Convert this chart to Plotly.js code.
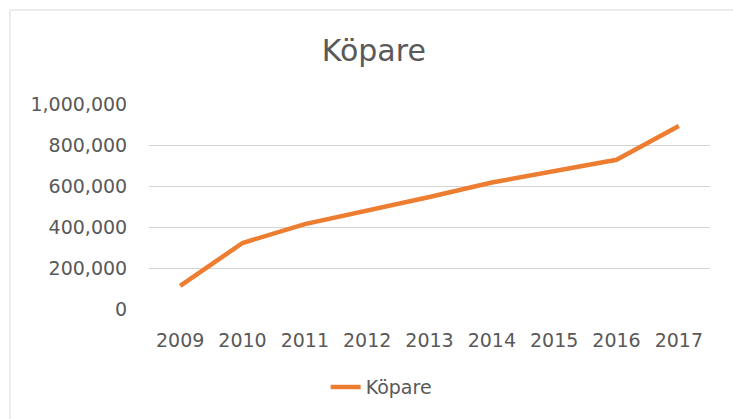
<!DOCTYPE html>
<html>
<head>
<meta charset="utf-8">
<script src="https://cdn.plot.ly/plotly-3.0.1.min.js"></script>
<style>
  html, body { margin: 0; padding: 0; background: #ffffff; }
  #chart { width: 733px; height: 419px; }
</style>
</head>
<body>
<div id="chart"></div>
<script>
const years = ["2009", "2010", "2011", "2012", "2013", "2014", "2015", "2016", "2017"];
const kopare = [113000, 322000, 414000, 478000, 546000, 617000, 671000, 728000, 893000];
const seriesName = "Köpare";
const yTicks = [0, 200000, 400000, 600000, 800000, 1000000];

const textColor = "#595959";
const fontFamily = "DejaVu Sans, Liberation Sans, sans-serif";

const trace = {
  x: years,
  y: kopare,
  type: "scatter",
  mode: "lines",
  name: seriesName,
  line: { color: "#ED7D31", width: 4.5, shape: "linear" },
  hoverinfo: "x+y"
};

const layout = {
  width: 733,
  height: 419,
  margin: { l: 149, r: 23, t: 104, b: 110, pad: 0 },
  paper_bgcolor: "#ffffff",
  plot_bgcolor: "#ffffff",
  font: { family: fontFamily, color: textColor, size: 19 },
  title: {
    text: "Köpare",
    font: { family: fontFamily, size: 30, color: textColor },
    xref: "container",
    yref: "container",
    x: 0.51,
    xanchor: "center",
    y: 0.905,
    yanchor: "top"
  },
  xaxis: {
    type: "category",
    range: [-0.5, 8.5],
    showgrid: false,
    zeroline: false,
    showline: false,
    ticks: "outside",
    ticklen: 14,
    tickcolor: "rgba(0,0,0,0)",
    tickfont: { family: fontFamily, size: 19, color: textColor },
    fixedrange: true
  },
  yaxis: {
    range: [0, 1000000],
    tickvals: yTicks,
    tickformat: ",d",
    showgrid: true,
    gridcolor: "#d4d4d4",
    gridwidth: 1.3,
    zeroline: false,
    showline: false,
    ticks: "outside",
    ticklen: 17,
    tickcolor: "rgba(0,0,0,0)",
    tickfont: { family: fontFamily, size: 19, color: textColor },
    fixedrange: true
  },
  showlegend: true,
  legend: {
    orientation: "h",
    xref: "container",
    yref: "container",
    x: 0.52,
    xanchor: "center",
    y: 0.076,
    yanchor: "middle",
    font: { family: fontFamily, size: 19, color: textColor },
    bgcolor: "rgba(0,0,0,0)"
  },
  shapes: [
    {
      type: "rect",
      xref: "paper",
      yref: "paper",
      x0: -0.2478, x1: 1.06,
      y0: -0.6, y1: 1.4585,
      line: { color: "#d9d9d9", width: 1 },
      fillcolor: "rgba(0,0,0,0)",
      layer: "below"
    }
  ]
};

Plotly.newPlot("chart", [trace], layout, { displayModeBar: false, staticPlot: false });
</script>
</body>
</html>
